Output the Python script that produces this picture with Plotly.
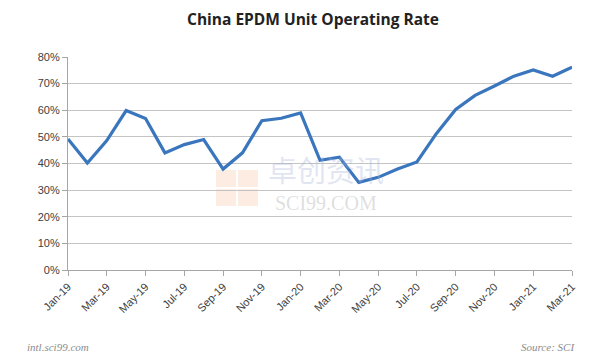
import plotly.graph_objects as go

months = ["Jan-19","Feb-19","Mar-19","Apr-19","May-19","Jun-19","Jul-19","Aug-19","Sep-19",
          "Oct-19","Nov-19","Dec-19","Jan-20","Feb-20","Mar-20","Apr-20","May-20","Jun-20",
          "Jul-20","Aug-20","Sep-20","Oct-20","Nov-20","Dec-20","Jan-21","Feb-21","Mar-21"]
rates = [49.2, 40.2, 48.6, 59.9, 56.9, 44.0, 47.1, 49.0, 37.9,
         44.0, 56.1, 57.0, 59.0, 41.2, 42.4, 32.9, 34.8, 37.9,
         40.6, 51.2, 60.3, 65.6, 69.1, 72.8, 75.1, 72.8, 76.2]
tick_labels = months[::2]
y_ticks = [0, 10, 20, 30, 40, 50, 60, 70, 80]

fig = go.Figure()
fig.add_trace(go.Scatter(
    x=list(range(len(months))), y=[r / 100 for r in rates], mode="lines",
    line=dict(color="#3a76bd", width=3.2),
    hoverinfo="skip", showlegend=False))

W, H = 596, 359
L, R, T, B = 68, 24, 57, 89

fig.update_layout(
    width=W, height=H,
    margin=dict(l=L, r=R, t=T, b=B),
    paper_bgcolor="white", plot_bgcolor="white",
    title=dict(text="<b>China EPDM Unit Operating Rate</b>", x=313 / W, xanchor="center",
               y=1 - 20 / H, yanchor="middle",
               font=dict(family="Open Sans", size=15.5, color="#222222")),
    font=dict(family="Liberation Sans", size=11, color="#404040"),
    xaxis=dict(
        range=[0, len(months) - 1], automargin=False,
        tickmode="array", tickvals=list(range(0, len(months), 2)), ticktext=tick_labels,
        tickangle=-45, ticks="outside", ticklen=5, tickcolor="#a6a6a6",
        showline=True, linecolor="#a6a6a6", linewidth=1.2,
        showgrid=False, zeroline=False,
        tickfont=dict(family="Liberation Sans", size=11, color="#404040"),
    ),
    yaxis=dict(
        range=[0, 0.8], automargin=False,
        tickmode="array", tickvals=[v / 100 for v in y_ticks],
        ticktext=[f"{v}%" for v in y_ticks],
        ticks="outside", ticklen=5, tickcolor="#a6a6a6",
        showline=True, linecolor="#a6a6a6", linewidth=1.2,
        showgrid=True, gridcolor="#c4c4c4", gridwidth=1.3,
        zeroline=False,
        tickfont=dict(family="Liberation Sans", size=11, color="#404040"),
    ),
)

# watermark logo (faint squares)
def px2paper(x, y):
    return (x - L) / (W - L - R), 1 - (y - T) / (H - T - B)

squares = [(216, 170, 236, 187), (238, 170, 258, 187), (216, 189, 236, 206), (238, 189, 258, 206)]
for x0, y0, x1, y1 in squares:
    a0, b0 = px2paper(x0, y0)
    a1, b1 = px2paper(x1, y1)
    fig.add_shape(type="rect", xref="paper", yref="paper", x0=a0, y0=b1, x1=a1, y1=b0,
                  fillcolor="rgba(250,200,170,0.35)", line_width=0, layer="below")

cx, cy = px2paper(326, 191)
fig.add_annotation(xref="paper", yref="paper", x=cx, y=cy, xanchor="center", yanchor="bottom",
                   text="卓创资讯", showarrow=False, borderpad=0,
                   font=dict(family="Noto Sans CJK SC", size=29, color="rgba(170,180,220,0.35)"))
fig.add_annotation(xref="paper", yref="paper", x=cx, y=cy, xanchor="center", yanchor="top",
                   text="SCI99.COM", showarrow=False, borderpad=0,
                   font=dict(family="Liberation Serif", size=20, color="rgba(160,160,160,0.35)"))

# footer texts
fy = -(347 - (H - B)) / (H - T - B)
fig.add_annotation(xref="paper", yref="paper", x=-(L - 25) / (W - L - R), y=fy,
                   xanchor="left", yanchor="middle", text="<i>intl.sci99.com</i>", showarrow=False,
                   font=dict(family="Liberation Serif", size=11, color="#8c8c8c"))
fig.add_annotation(xref="paper", yref="paper", x=1 + (577 - (W - R)) / (W - L - R), y=fy,
                   xanchor="right", yanchor="middle", text="<i>Source: SCI</i>", showarrow=False,
                   font=dict(family="Liberation Serif", size=11, color="#8c8c8c"))

fig.write_html("out.html", config={"displayModeBar": False},
               post_script="document.body.style.margin='0';")
